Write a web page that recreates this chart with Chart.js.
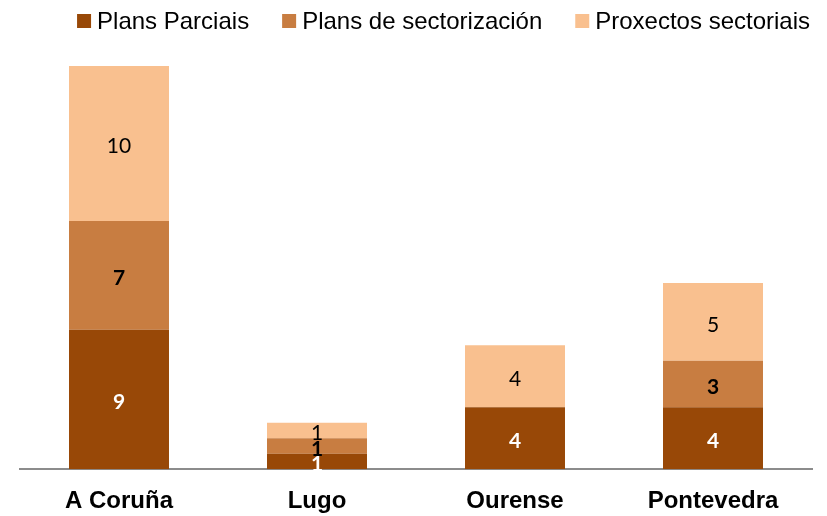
<!DOCTYPE html>
<html>
<head>
<meta charset="utf-8">
<script src="https://cdn.jsdelivr.net/npm/chart.js@4"></script>
<style>
  body { margin: 0; background: #fff; }
  canvas { display: block; }
</style>
</head>
<body>
<canvas id="chart" width="827" height="516"></canvas>
<script>
// Chart data
const provincias = ["A Coruña", "Lugo", "Ourense", "Pontevedra"];
const plansParciais = [9, 1, 4, 4];
const plansSectorizacion = [7, 1, 0, 3];
const proxectosSectoriais = [10, 1, 4, 5];

const seriesNames = ["Plans Parciais", "Plans de sectorización", "Proxectos sectoriais"];
const seriesColors = ["#984807", "#C87D41", "#F9C08F"];
// label style for each series: colour and weight
const labelColors = ["#ffffff", "#000000", "#000000"];
const labelWeights = ["bold", "bold", "normal"];

const legendFont = "24px 'Liberation Sans', Arial, sans-serif";

// Draws the value in the middle of every segment
const segmentLabels = {
    id: "segmentLabels",
    afterDatasetsDraw(chart) {
        const ctx = chart.ctx;
        chart.data.datasets.forEach((ds, i) => {
            const meta = chart.getDatasetMeta(i);
            meta.data.forEach((bar, j) => {
                const value = ds.data[j];
                if (!value) return;
                ctx.save();
                ctx.font = labelWeights[i] + " 21px Lato, 'Open Sans', sans-serif";
                ctx.fillStyle = labelColors[i];
                ctx.textAlign = "center";
                ctx.textBaseline = "middle";
                ctx.fillText(String(value), bar.x, (bar.y + bar.base) / 2 + 3);
                ctx.restore();
            });
        });
    },
};

// Legend row at the top, right aligned like the original
const topLegend = {
    id: "topLegend",
    afterDraw(chart) {
        const ctx = chart.ctx;
        const box = 14, gap = 6, spacing = 33;
        const rightEdge = 810, midY = 21;
        ctx.save();
        ctx.font = legendFont;
        const widths = chart.data.datasets.map((ds) => ctx.measureText(ds.label).width);
        const total = widths.reduce((a, w) => a + box + gap + w, 0) + spacing * (widths.length - 1);
        let x = rightEdge - total;
        chart.data.datasets.forEach((ds, i) => {
            ctx.fillStyle = ds.backgroundColor;
            ctx.fillRect(x, midY - box / 2, box, box);
            x += box + gap;
            ctx.fillStyle = "#000";
            ctx.textAlign = "left";
            ctx.textBaseline = "middle";
            ctx.fillText(ds.label, x, midY + 1);
            x += widths[i] + spacing;
        });
        ctx.restore();
    },
};

const ctx = document.getElementById("chart").getContext("2d");
new Chart(ctx, {
    type: "bar",
    data: {
        labels: provincias,
        datasets: [plansParciais, plansSectorizacion, proxectosSectoriais].map((values, i) => ({
            label: seriesNames[i],
            data: values,
            backgroundColor: seriesColors[i],
            borderWidth: 0,
            barPercentage: 0.505,
            categoryPercentage: 1,
        })),
    },
    options: {
        responsive: false,
        animation: false,
        layout: { padding: { left: 20, right: 15, top: 66, bottom: -10 } },
        plugins: {
            tooltip: { enabled: false },
            legend: { display: false },
        },
        scales: {
            x: {
                stacked: true,
                grid: { display: false },
                border: { display: true, color: "#8c8c8c", width: 2 },
                ticks: {
                    color: "#000",
                    padding: 10,
                    font: { family: "'Liberation Sans', Arial, sans-serif", size: 24, weight: "bold" },
                },
            },
            y: {
                stacked: true,
                display: false,
                min: 0,
                max: 26,
            },
        },
    },
    plugins: [segmentLabels, topLegend],
});
</script>
</body>
</html>
